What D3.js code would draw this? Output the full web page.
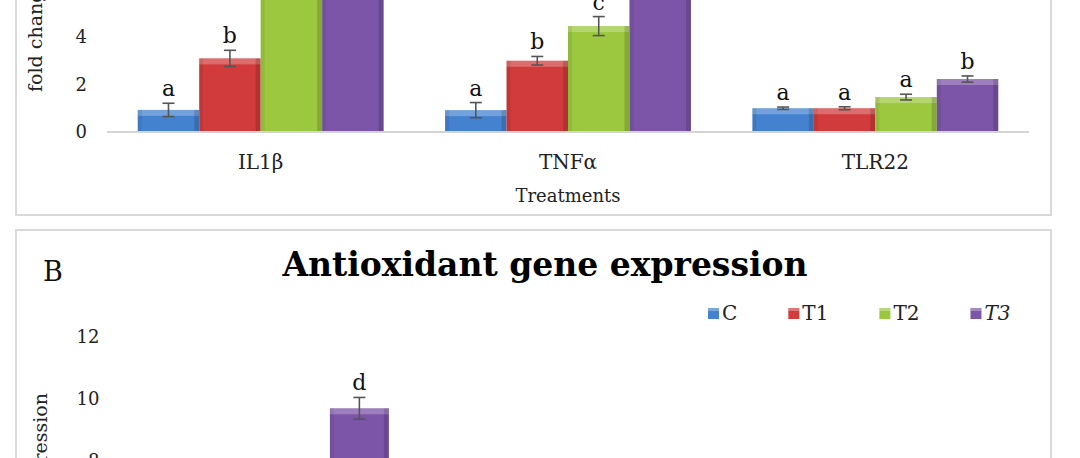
<!DOCTYPE html>
<html>
<head>
  <meta charset="utf-8">
  <title>Immune and antioxidant gene expression</title>
  <script src="https://d3js.org/d3.v7.min.js"></script>
  <style>
    body { margin: 0; background: #fff; }
    svg { display: block; font-family: 'DejaVu Serif', serif; }
    .tick text { fill: #222; font-size: 18px; }
    .cat { fill: #222; font-size: 20px; }
    .letter { fill: #111; font-size: 22px; }
  </style>
</head>
<body>
  <div id="chart"></div>
  <script>
    // treatments (legend)
    var series = ["C", "T1", "T2", "T3"];
    var colors = ["#4482cf", "#d23b3b", "#9cc83f", "#7c55a8"];

    // panel A - immune genes (bars above the frame are cut off in the picture)
    var immuneGenes = ["IL1β", "TNFα", "TLR22"];
    var immuneMeans = [[0.93, 3.1, 7.4, 8.6], [0.92, 3.0, 4.46, 6.6], [1.0, 1.0, 1.47, 2.23]];
    var immuneErrs = [[0.28, 0.34, 0.4, 0.45], [0.32, 0.18, 0.4, 0.4], [0.05, 0.06, 0.12, 0.13]];
    var immuneLetters = [["a", "b", "c", "d"], ["a", "b", "c", "d"], ["a", "a", "a", "b"]];
    var immuneTicks = [0, 2, 4, 6, 8, 10];

    // panel B - antioxidant genes (only the top of the chart is visible)
    var antiGenes = ["SOD", "CAT", "GPx"];
    var antiMeans = [[1.0, 3.2, 5.4, 9.7], [1.0, 2.1, 3.4, 5.1], [1.0, 1.7, 2.5, 4.0]];
    var antiErrs = [[0.2, 0.3, 0.35, 0.35], [0.1, 0.2, 0.3, 0.3], [0.1, 0.15, 0.2, 0.3]];
    var antiLetters = [["a", "b", "c", "d"], ["a", "b", "c", "d"], ["a", "b", "c", "d"]];
    var antiTicks = [0, 2, 4, 6, 8, 10, 12];

    var W = 1080, H = 458;

    // only keep texts that fall inside the photographed window
    function inView(yy) { return yy > -2 && yy < H + 14; }

    var svg = d3.select("#chart")
      .append("svg")
      .attr("width", W)
      .attr("height", H);

    // panel frames
    svg.append("rect")
      .attr("x", 16).attr("y", -300)
      .attr("width", 1035).attr("height", 515)
      .attr("fill", "#fff").attr("stroke", "#d9d9d9").attr("stroke-width", 2);
    svg.append("rect")
      .attr("x", 16).attr("y", 230)
      .attr("width", 1035).attr("height", 500)
      .attr("fill", "#fff").attr("stroke", "#d9d9d9").attr("stroke-width", 2);

    function drawBars(cfg) {
      var g = svg.append("g");

      var x0 = d3.scaleBand()
        .domain(cfg.genes)
        .range(cfg.xRange)
        .paddingInner(0.2)
        .paddingOuter(0.1);

      var x1 = d3.scaleBand()
        .domain(series)
        .range([0, x0.bandwidth()]);

      var y = d3.scaleLinear()
        .domain([0, d3.max(cfg.ticks)])
        .range(cfg.yRange);

      // y axis: labels only
      var ax = g.append("g")
        .attr("transform", "translate(" + cfg.xRange[0] + ",0)")
        .call(d3.axisLeft(y)
          .tickValues(cfg.ticks.filter(function(t) { return inView(y(t) + 4); }))
          .tickSize(0).tickPadding(cfg.tickPad));
      ax.select(".domain").remove();
      ax.selectAll("text").attr("font-family", "DejaVu Serif, serif");

      var rows = [];
      cfg.genes.forEach(function(gene, i) {
        series.forEach(function(s, j) {
          rows.push({gene: gene, s: s, j: j, v: cfg.means[i][j], e: cfg.errs[i][j], l: cfg.letters[i][j]});
        });
      });

      var bar = g.selectAll(".bar")
        .data(rows)
        .enter()
        .append("g")
        .attr("transform", function(d) { return "translate(" + (x0(d.gene) + x1(d.s)) + ",0)"; });

      var bw = x1.bandwidth();

      bar.append("rect")
        .attr("y", function(d) { return y(d.v); })
        .attr("width", bw)
        .attr("height", function(d) { return y(0) - y(d.v); })
        .attr("fill", function(d) { return colors[d.j]; });
      // bevel look: light top, darker sides
      bar.append("rect")
        .attr("y", function(d) { return y(d.v); })
        .attr("width", bw).attr("height", 6)
        .attr("fill", "#fff").attr("opacity", 0.25);
      bar.append("rect")
        .attr("y", function(d) { return y(d.v); })
        .attr("width", 4)
        .attr("height", function(d) { return y(0) - y(d.v); })
        .attr("fill", "#000").attr("opacity", 0.07);
      bar.append("rect")
        .attr("x", bw - 5)
        .attr("y", function(d) { return y(d.v); })
        .attr("width", 5)
        .attr("height", function(d) { return y(0) - y(d.v); })
        .attr("fill", "#000").attr("opacity", 0.15);

      // error bars
      var eb = bar.append("g")
        .attr("stroke", "#555")
        .attr("stroke-width", 1.6);
      eb.append("line")
        .attr("x1", bw / 2).attr("x2", bw / 2)
        .attr("y1", function(d) { return y(d.v + d.e); })
        .attr("y2", function(d) { return y(d.v - d.e); });
      eb.append("line")
        .attr("x1", bw / 2 - 6).attr("x2", bw / 2 + 6)
        .attr("y1", function(d) { return y(d.v + d.e); })
        .attr("y2", function(d) { return y(d.v + d.e); });
      eb.append("line")
        .attr("x1", bw / 2 - 6).attr("x2", bw / 2 + 6)
        .attr("y1", function(d) { return y(d.v - d.e); })
        .attr("y2", function(d) { return y(d.v - d.e); });

      bar.filter(function(d) { return inView(y(d.v + d.e) - 7); })
        .append("text")
        .attr("class", "letter")
        .attr("x", bw / 2)
        .attr("y", function(d) { return y(d.v + d.e) - 7; })
        .attr("text-anchor", "middle")
        .text(function(d) { return d.l; });

      // base line
      g.append("line")
        .attr("x1", cfg.xRange[0]).attr("x2", cfg.xRange[1])
        .attr("y1", y(0)).attr("y2", y(0))
        .attr("stroke", "#d4d4d4").attr("stroke-width", 2);

      if (inView(y(0) + 37)) {
        g.selectAll(".cat")
          .data(cfg.genes)
          .enter()
          .append("text")
          .attr("class", "cat")
          .attr("x", function(d) { return x0(d) + x0.bandwidth() / 2; })
          .attr("y", y(0) + 37)
          .attr("text-anchor", "middle")
          .text(function(d) { return d; });
      }

      return {x0: x0, y: y};
    }

    drawBars({
      genes: immuneGenes, means: immuneMeans, errs: immuneErrs, letters: immuneLetters,
      ticks: immuneTicks, xRange: [107, 1029], yRange: [132, 132 - 10 * 23.75], tickPad: 20
    });

    svg.append("text")
      .attr("x", (107 + 1029) / 2)
      .attr("y", 202)
      .attr("text-anchor", "middle")
      .attr("font-size", 18).attr("fill", "#222")
      .text("Treatments");

    svg.append("text")
      .attr("transform", "translate(42,92) rotate(-90)")
      .attr("text-anchor", "start")
      .attr("font-size", 19).attr("fill", "#222")
      .text("fold change");

    drawBars({
      genes: antiGenes, means: antiMeans, errs: antiErrs, letters: antiLetters,
      ticks: antiTicks, xRange: [123.5, 1008], yRange: [337 + 12 * 31, 337], tickPad: 24
    });

    svg.append("text")
      .attr("x", 53).attr("y", 281)
      .attr("text-anchor", "middle")
      .attr("font-size", 27).attr("fill", "#111")
      .text("B");

    svg.append("text")
      .attr("x", 545).attr("y", 276)
      .attr("text-anchor", "middle")
      .attr("font-size", 33).attr("font-weight", "bold").attr("fill", "#000")
      .text("Antioxidant gene expression");

    svg.append("text")
      .attr("transform", "translate(47,393) rotate(-90)")
      .attr("text-anchor", "end")
      .attr("font-size", 19).attr("fill", "#222")
      .text("Relative gene expression");

    // legend: entries laid out one after the other with an equal gap
    var legX = 708;
    var leg = svg.append("g");
    series.forEach(function(s, i) {
      var item = leg.append("g").attr("transform", "translate(" + legX + ",308)");
      item.append("rect")
        .attr("width", 11).attr("height", 11)
        .attr("fill", colors[i]);
      item.append("rect")
        .attr("width", 11).attr("height", 3)
        .attr("fill", "#fff").attr("opacity", 0.3);
      var t = item.append("text")
        .attr("x", 14).attr("y", 12)
        .attr("font-size", 20).attr("fill", "#222")
        .attr("font-style", s === "T3" ? "italic" : "normal")
        .text(s);
      legX += 14 + t.node().getComputedTextLength() + 51;
    });
  </script>
</body>
</html>
